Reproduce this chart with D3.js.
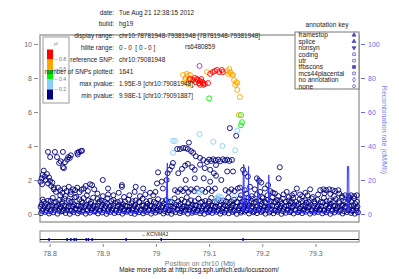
<!DOCTYPE html>
<html>
<head>
<meta charset="utf-8">
<script src="https://cdn.jsdelivr.net/npm/d3@7"></script>
<style>
  body { margin: 0; background: #fff; }
  svg { display: block; font-family: "Liberation Sans", Arial, sans-serif; }
</style>
</head>
<body>
<div id="chart"></div>
<script>
// ---- data ----
const infoLabels = ["date:", "build:", "display range:", "hilite range:", "reference SNP:",
  "number of SNPs plotted:", "max pvalue:", "min pvalue:"];
const infoValues = ["Tue Aug 21 12:38:15 2012", "hg19", "chr10:78781948-79381948 [78781948-79381948]",
  "0 - 0  [ 0 - 0 ]", "chr10:79081948", "1641", "1.95E-9 [chr10:79081948]", "9.98E-1 [chr10:79091887]"];

const annotKeys = ["framestop", "splice", "nonsyn", "coding", "utr", "tfbscons", "mcs44placental", "no annotation", "none"];
const r2Colors = ["#ff0000", "#ffa500", "#00ee00", "#87cefa", "#000080"];
const r2Ticks = ["0.8", "0.6", "0.4", "0.2"];

const xTicks = [78.8, 78.9, 79.0, 79.1, 79.2, 79.3];
const yTicks = [0, 2, 4, 6, 8, 10];
const recTicks = [0, 20, 40, 60, 80, 100];

const refSnp = [79.081948, 8.71];
const refName = "rs6480859";

// bottom band of weak SNPs (pos Mb, -log10 p), r2 < 0.2
const navyLow = [
 [78.784,0.05],[78.792,0.12],[78.799,0.03],[78.807,0.1],[78.815,0.02],[78.822,0.15],[78.83,0.06],[78.838,0.01],[78.845,0.11],[78.853,0.04],[78.861,0.13],[78.868,0.02],[78.876,0.08],[78.884,0.14],[78.891,0.03],[78.899,0.09],[78.907,0.01],[78.914,0.12],[78.922,0.05],[78.93,0.1],[78.937,0.02],[78.945,0.13],[78.953,0.06],[78.96,0.01],[78.968,0.1],[78.976,0.04],[78.983,0.12],[78.991,0.02],[78.999,0.08],[79.006,0.15],[79.014,0.03],[79.022,0.09],[79.029,0.01],[79.037,0.11],[79.045,0.05],[79.052,0.13],[79.06,0.02],[79.068,0.07],[79.075,0.12],[79.083,0.04],[79.091,0.01],[79.098,0.1],[79.106,0.06],[79.114,0.13],[79.121,0.02],[79.129,0.09],[79.137,0.04],[79.144,0.12],[79.152,0.01],[79.16,0.08],[79.167,0.14],[79.175,0.03],[79.183,0.1],[79.19,0.05],[79.198,0.12],[79.206,0.02],[79.213,0.09],[79.221,0.04],[79.229,0.13],[79.236,0.01],[79.244,0.07],[79.252,0.11],[79.259,0.03],[79.267,0.1],[79.275,0.05],[79.282,0.13],[79.29,0.02],[79.298,0.08],[79.305,0.12],[79.313,0.04],[79.321,0.1],[79.328,0.01],[79.336,0.09],[79.344,0.13],[79.351,0.03],[79.359,0.11],[79.367,0.06],[79.374,0.02],[79.38,0.1],
 [78.786,0.18],[78.794,0.2],[78.801,0.16],[78.81,0.24],[78.817,0.19],[78.825,0.17],[78.833,0.22],[78.84,0.18],[78.848,0.25],[78.856,0.16],[78.863,0.21],[78.871,0.19],[78.879,0.23],[78.886,0.17],[78.894,0.2],[78.902,0.24],[78.909,0.16],[78.917,0.21],[78.925,0.18],[78.932,0.23],[78.94,0.17],[78.948,0.2],[78.955,0.25],[78.963,0.16],[78.971,0.22],[78.978,0.18],[78.986,0.21],[78.994,0.17],[79.001,0.24],[79.009,0.19],[79.017,0.16],[79.024,0.22],[79.032,0.18],[79.04,0.25],[79.047,0.17],[79.055,0.2],[79.063,0.23],[79.07,0.16],[79.078,0.21],[79.086,0.18],[79.093,0.24],[79.101,0.17],[79.109,0.2],[79.116,0.22],[79.124,0.16],[79.132,0.19],[79.139,0.24],[79.147,0.18],[79.155,0.21],[79.162,0.17],[79.17,0.23],[79.178,0.19],[79.185,0.16],[79.193,0.22],[79.201,0.18],[79.208,0.25],[79.216,0.17],[79.224,0.2],[79.231,0.23],[79.239,0.16],[79.247,0.21],[79.254,0.18],[79.262,0.24],[79.27,0.17],[79.277,0.2],[79.285,0.22],[79.293,0.16],[79.3,0.19],[79.308,0.24],[79.316,0.18],[79.323,0.21],[79.331,0.17],[79.339,0.23],[79.346,0.19],[79.354,0.16],[79.362,0.22],[79.369,0.18],[79.377,0.2],
 [78.788,0.28],[78.796,0.35],[78.803,0.22],[78.811,0.4],[78.819,0.3],[78.826,0.25],[78.834,0.38],[78.842,0.21],[78.849,0.33],[78.857,0.27],[78.865,0.4],[78.872,0.23],[78.88,0.35],[78.888,0.3],[78.895,0.2],[78.903,0.37],[78.911,0.26],[78.918,0.32],[78.926,0.22],[78.934,0.39],[78.941,0.28],[78.949,0.24],[78.957,0.35],[78.964,0.3],[78.972,0.21],[78.98,0.38],[78.987,0.26],[78.995,0.33],[79.003,0.23],[79.01,0.4],[79.018,0.29],[79.026,0.22],[79.033,0.36],[79.041,0.27],[79.049,0.31],[79.056,0.24],[79.064,0.39],[79.072,0.28],[79.079,0.21],[79.087,0.35],[79.095,0.3],[79.102,0.25],[79.11,0.38],[79.118,0.22],[79.125,0.33],[79.133,0.27],[79.141,0.4],[79.148,0.23],[79.156,0.35],[79.164,0.29],[79.171,0.21],[79.179,0.37],[79.187,0.26],[79.194,0.32],[79.202,0.24],[79.21,0.39],[79.217,0.28],[79.225,0.22],[79.233,0.36],[79.24,0.3],[79.248,0.25],[79.256,0.38],[79.263,0.21],[79.271,0.33],[79.279,0.27],[79.286,0.4],[79.294,0.23],[79.302,0.35],[79.309,0.29],[79.317,0.22],[79.325,0.37],[79.332,0.26],[79.34,0.32],[79.348,0.24],[79.355,0.39],[79.363,0.28],[79.371,0.21],[79.377,0.34],
 [78.783,0.42],[78.79,0.47],[78.798,0.43],[78.805,0.5],[78.813,0.44],[78.821,0.41],[78.828,0.48],[78.836,0.45],[78.844,0.42],[78.851,0.49],[78.859,0.44],[78.867,0.47],[78.874,0.41],[78.882,0.46],[78.89,0.5],[78.897,0.43],[78.905,0.47],[78.913,0.42],[78.92,0.49],[78.928,0.45],[78.936,0.41],[78.943,0.48],[78.951,0.44],[78.959,0.46],[78.966,0.42],[78.974,0.5],[78.982,0.43],[78.989,0.47],[78.997,0.41],[79.005,0.46],[79.012,0.49],[79.02,0.43],[79.028,0.45],[79.035,0.42],[79.043,0.48],[79.051,0.44],[79.058,0.41],[79.066,0.47],[79.074,0.5],[79.081,0.43],[79.089,0.46],[79.097,0.42],[79.104,0.49],[79.112,0.44],[79.12,0.47],[79.127,0.41],[79.135,0.45],[79.143,0.5],[79.15,0.43],[79.158,0.46],[79.166,0.42],[79.173,0.48],[79.181,0.44],[79.189,0.41],[79.196,0.47],[79.204,0.45],[79.212,0.42],[79.219,0.49],[79.227,0.43],[79.235,0.46],[79.242,0.41],[79.25,0.48],[79.258,0.44],[79.265,0.5],[79.273,0.42],[79.281,0.46],[79.288,0.43],[79.296,0.47],[79.304,0.41],[79.311,0.45],[79.319,0.49],[79.327,0.43],[79.334,0.46],[79.342,0.42],[79.35,0.48],[79.357,0.44],[79.365,0.41],[79.372,0.47],[79.379,0.43],
 [78.785,0.55],[78.793,0.62],[78.8,0.48],[78.808,0.67],[78.816,0.52],[78.823,0.6],[78.831,0.46],[78.839,0.7],[78.846,0.57],[78.854,0.5],[78.862,0.65],[78.869,0.53],[78.877,0.6],[78.885,0.47],[78.892,0.68],[78.9,0.55],[78.908,0.61],[78.915,0.49],[78.923,0.66],[78.931,0.52],[78.938,0.58],[78.946,0.45],[78.954,0.63],[78.961,0.54],[78.969,0.69],[78.977,0.5],[78.984,0.6],[78.992,0.47],[79,0.65],[79.007,0.56],[79.015,0.62],[79.023,0.48],[79.03,0.7],[79.038,0.53],[79.046,0.59],[79.053,0.46],[79.061,0.64],[79.069,0.55],[79.076,0.5],[79.084,0.67],[79.092,0.52],[79.099,0.61],[79.107,0.47],[79.115,0.68],[79.122,0.56],[79.13,0.5],[79.138,0.63],[79.145,0.54],[79.153,0.69],[79.161,0.48],[79.168,0.6],[79.176,0.52],[79.184,0.66],[79.191,0.46],[79.199,0.58],[79.207,0.64],[79.214,0.5],[79.222,0.7],[79.23,0.55],[79.237,0.61],[79.245,0.47],[79.253,0.65],[79.26,0.53],[79.268,0.59],[79.276,0.48],[79.283,0.67],[79.291,0.54],[79.299,0.62],[79.306,0.5],[79.314,0.68],[79.322,0.56],[79.329,0.6],[79.337,0.47],[79.345,0.64],[79.352,0.53],[79.36,0.69],[79.368,0.5],[79.375,0.6],
 [78.789,0.72],[78.802,0.76],[78.812,0.71],[78.824,0.74],[78.842,0.72],[78.86,0.75],[78.878,0.71],[78.894,0.74],[78.904,0.72],[78.916,0.76],[78.928,0.71],[78.942,0.73],[78.956,0.75],[78.968,0.72],[78.982,0.74],[78.996,0.71],[79.012,0.76],[79.027,0.72],[79.042,0.74],[79.054,0.71],[79.073,0.75],[79.087,0.72],[79.1,0.74],[79.111,0.71],[79.122,0.76],[79.132,0.72],[79.142,0.74],[79.152,0.71],[79.163,0.75],[79.171,0.72],[79.18,0.74],[79.188,0.71],[79.197,0.76],[79.205,0.72],[79.216,0.74],[79.225,0.71],[79.234,0.75],[79.244,0.72],[79.255,0.74],[79.264,0.71],[79.275,0.76],[79.287,0.72],[79.298,0.74],[79.31,0.71],[79.321,0.75],[79.333,0.72],[79.344,0.74],[79.356,0.71],[79.367,0.75],[79.378,0.72],
 [78.787,0.85],[78.797,0.78],[78.806,0.95],[78.818,0.82],[78.828,0.9],[78.836,0.77],[78.847,0.98],[78.856,0.86],[78.864,0.93],[78.873,0.8],[78.882,0.96],[78.89,0.88],[78.898,0.79],[78.909,0.92],[78.92,0.83],[78.933,0.76],[78.948,0.85],[78.962,0.8],[78.975,0.9],[78.989,0.78],[79.004,0.87],[79.019,0.81],[79.035,0.92],[79.048,0.84],[79.058,0.98],[79.066,0.8],[79.08,0.9],[79.093,0.77],[79.104,0.95],[79.117,0.86],[79.127,0.79],[79.136,0.97],[79.147,0.84],[79.158,0.91],[79.166,0.78],[79.174,0.96],[79.182,0.88],[79.193,0.8],[79.201,0.93],[79.211,0.85],[79.219,0.99],[79.228,0.82],[79.239,0.9],[79.25,0.79],[79.258,0.94],[79.27,0.86],[79.281,0.8],[79.293,0.91],[79.304,0.83],[79.316,0.95],[79.327,0.8],[79.338,0.88],[79.35,0.97],[79.362,0.84],[79.373,0.92]
];

// scattered r2 < 0.2 SNPs above the band
const navyMid = [
 [78.783,1.9],[78.785,2.1],[78.787,2.3],[78.789,2.55],[78.791,2.2],[78.793,2.0],[78.795,2.35],[78.797,1.8],[78.799,2.15],[78.801,1.95],[78.786,1.75],[78.803,1.65],[78.805,1.85],[78.808,1.55],
 [78.808,1.45],[78.812,1.3],[78.816,1.55],[78.82,1.4],[78.824,1.25],[78.828,1.5],[78.832,1.35],[78.836,1.6],[78.84,1.3],[78.844,1.45],[78.848,1.4],[78.852,1.55],[78.856,1.28],[78.86,1.42],[78.864,1.5],[78.868,1.65],[78.872,1.35],[78.876,1.75],[78.88,1.7],[78.884,1.45],
 [78.82,1.1],[78.83,1.05],[78.84,1.15],[78.85,1.0],[78.87,1.1],[78.89,1.2],[78.9,1.05],[78.91,1.15],[78.92,1.1],[78.93,1.25],[78.94,1.0],[78.95,1.1],[78.96,1.3],[78.97,1.05],[78.98,1.15],
 [78.797,3.65],[78.81,3.65],[78.814,3.35],[78.801,3.35],[78.825,3.65],[78.821,3.1],[78.818,3.0],[78.829,3.05],[78.825,2.75],[78.835,3.35],[78.84,3.45],[78.838,3.3],[78.833,3.2],[78.827,2.7],[78.852,3.6],[78.855,3.65],[78.859,3.7],[78.861,3.72],[78.853,3.5],
 [78.9,2.0],[78.91,1.5],[78.936,1.6],[78.936,1.7],[78.962,1.6],[78.976,1.5],[78.989,1.25],[78.995,1.1],[78.999,1.3],[79.004,2.45],[79.002,1.8],[79.011,1.9],[79.013,1.5],[79.02,2.0],[79.022,2.4],[79.026,2.6],[79.03,2.8],[79.032,3.0],
 [79.062,4.2],[79.040,3.82],[79.045,3.82],[79.051,3.88],[79.056,3.88],[79.060,3.82],[79.066,3.7],[79.070,3.6],[79.075,3.4],[79.083,3.3],[79.089,3.18],[79.096,3.06],
 [79.1,3.2],[79.104,3.12],[79.108,3.22],[79.112,3.15],[79.117,3.2],[79.121,3.1],[79.126,3.22],[79.13,3.15],[79.134,3.2],[79.138,3.12],[79.143,3.18],[79.113,2.88],
 [79.042,2.4],[79.049,2.65],[79.055,2.85],[79.06,2.95],[79.068,2.75],[79.073,2.6],[79.083,2.9],[79.092,2.7],[79.102,2.6],[79.109,2.4],[79.09,2.1],[79.102,1.9],[79.113,2.25],[79.123,2.0],[79.134,2.5],[79.145,2.5],[79.056,2.0],[79.073,2.1],
 [79.139,5.05],[79.151,4.6],
 [79.036,1.4],[79.041,1.3],[79.046,1.45],[79.051,1.35],[79.056,1.5],[79.061,1.3],[79.066,1.45],[79.072,1.35],[79.077,1.5],[79.087,1.42],[79.093,1.3],[79.099,1.48],[79.105,1.35],[79.111,1.5],[79.131,1.4],[79.137,1.3],[79.142,1.45],[79.148,1.35],[79.154,1.5],
 [79.164,2.6],[79.167,2.4],[79.173,2.2],[79.19,2.1],[79.194,1.95],[79.198,1.85],[79.233,2.75],[79.231,2.1],[79.211,1.7],[79.158,1.55],[79.167,1.4],[79.177,1.6],[79.186,1.45],[79.196,1.3],[79.205,1.5],[79.215,1.35],[79.224,1.2],
 [79.16,1.1],[79.17,1.2],[79.18,1.05],[79.19,1.15],[79.2,1.0],[79.21,1.1],[79.22,1.25],[79.23,1.05],[79.24,1.15],[79.25,1.0],[79.26,1.2],[79.275,1.05],[79.285,1.1],[79.295,1.0],[79.305,1.15],[79.335,1.05],[79.345,1.2],
 [79.265,1.5],[79.246,1.3],[79.256,1.1],[79.29,1.45],[79.271,1.15],[79.281,1.25],[79.309,1.4],[79.315,1.45],[79.32,1.4],[79.326,1.45],[79.332,1.4],[79.337,1.35],[79.343,1.4],[79.317,1.22],[79.328,1.18],[79.35,1.05],[79.356,1.1],[79.362,1.05],[79.367,1.1],[79.373,1.05],[79.378,1.1],[79.364,0.95]
];

const skyPts = [[79.082,4.7],[79.108,4.25],[79.125,4.0],[79.149,3.75],[79.153,4.9],[79.032,4.3],[79.036,4.3],[79.032,3.6],
 [79.08,1.3],[79.083,1.25],[79.115,0.95],[79.118,1.05],[79.113,0.9],[79.122,1.0],[79.147,1.0],[79.026,0.8],[79.12,0.85]];

const greenPts = [[79.1,6.8],[79.16,5.82],[79.162,5.4],[79.16,5.22]];

const orangePts = [[79.051,8.18],[79.058,8.24],[79.06,8.12],[79.064,8.18],[79.055,7.88],[79.058,7.76],[79.06,7.65],[79.068,7.6],[79.062,7.88],[79.056,8.0],[79.066,7.94],
 [79.096,8.35],[79.134,8.41],[79.138,8.53],[79.141,8.29],[79.143,8.18],[79.145,8.18],[79.139,8.35],[79.136,8.24],[79.147,7.88],[79.151,7.76],[79.153,7.7],[79.149,7.6],[79.153,7.3],[79.158,6.88],[79.156,5.82]];

const redPts = [[79.073,8.0],[79.077,7.94],[79.079,7.88],[79.083,7.82],[79.087,7.76],[79.089,7.7],[79.092,7.65],[79.098,7.7],[79.089,7.6],[79.083,7.6],[79.07,7.88],[79.064,7.94],[79.075,7.76],[79.081,7.7],[79.085,7.94],
 [79.107,8.35],[79.111,8.41],[79.115,8.47],[79.124,8.47],[79.126,8.35],[79.102,8.24],[79.119,8.35]];

// recombination rate (pos Mb, cM/Mb)
const recomb = [[78.782,1.2],[78.80,0.8],[78.83,1.5],[78.86,0.6],[78.90,1.0],[78.95,0.7],[79.00,1.3],[79.019,2.0],[79.0215,30],[79.0222,3],[79.05,1.0],[79.08,0.6],[79.12,1.2],
 [79.163,1.5],[79.1648,29],[79.1655,29],[79.1662,2],[79.1735,2],[79.1742,28],[79.175,2],[79.191,1.5],[79.1917,22],[79.1925,2],[79.2115,1.5],[79.2122,23],[79.213,2],
 [79.25,1],[79.30,0.8],[79.3595,1.5],[79.3602,28],[79.3625,28],[79.3632,2],[79.382,1]];

// KCNMA1 exons (Mb)
const geneName = "KCNMA1";
const exons = [78.799, 78.833, 78.840, 78.846, 78.850, 78.869, 78.873, 78.880, 78.944, 79.010, 79.164];

// ---- drawing ----
const W = 399, H = 279;
const svg = d3.select("#chart").append("svg").attr("width", W).attr("height", H);

const x = d3.scaleLinear().domain([78.781948, 79.381948]).range([40, 359]);
const y = d3.scaleLinear().domain([0, 10]).range([214, 44]);
const yRec = d3.scaleLinear().domain([0, 100]).range([214, 44]);
const plotTop = y(10.53), plotBottom = y(-0.47);

// info text block
const info = svg.append("g").attr("font-size", 6.4).attr("fill", "#222");

// plot frame
svg.append("rect").attr("x", 40).attr("y", plotTop).attr("width", 319).attr("height", plotBottom - plotTop)
  .attr("fill", "none").attr("stroke", "#9a9a9a").attr("stroke-width", 1.4);

// left axis
const gl = svg.append("g").attr("transform", "translate(38,0)")
  .call(d3.axisLeft(y).tickValues(yTicks).tickSize(4).tickPadding(2).tickFormat(d3.format("d")));
gl.select(".domain").remove();
gl.selectAll("line").attr("stroke", "#888");
gl.selectAll("text").attr("fill", "#666").attr("font-size", 7).attr("font-family", null);

// right axis
const gr = svg.append("g").attr("transform", "translate(361,0)")
  .call(d3.axisRight(yRec).tickValues(recTicks).tickSize(4).tickPadding(3));
gr.select(".domain").remove();
gr.selectAll("line").attr("stroke", "#6a6ae8");
gr.selectAll("text").attr("fill", "#6a6ae8").attr("font-size", 7).attr("font-family", null);
svg.append("text").attr("transform", "translate(382,130) rotate(90)")
  .attr("text-anchor", "middle").attr("font-size", 7).attr("fill", "#7a7aee")
  .text("Recombination rate (cM/Mb)");

// points
const pts = svg.append("g").attr("fill", "none").attr("stroke-width", 0.9);
function drawPts(data, color) {
  pts.append("g").attr("stroke", color).selectAll("circle").data(data).join("circle")
    .attr("cx", d => x(d[0])).attr("cy", d => y(d[1])).attr("r", 2.5);
}
drawPts(navyLow, r2Colors[4]);
drawPts(navyMid, r2Colors[4]);
drawPts(skyPts, r2Colors[3]);
drawPts(greenPts, r2Colors[2]);
drawPts(orangePts, r2Colors[1]);
drawPts(redPts, r2Colors[0]);
drawPts([refSnp], "#9932cc");

// recombination line
svg.append("path").datum(recomb)
  .attr("fill", "none").attr("stroke", "#3333ff").attr("stroke-width", 1)
  .attr("d", d3.line().x(d => x(d[0])).y(d => yRec(d[1])));

svg.append("text").attr("x", 185).attr("y", y(8.71) - 16.5).attr("font-size", 6.4).attr("fill", "#222")
  .text(refName);

// r2 legend
const lg = svg.append("g");
lg.append("rect").attr("x", 43).attr("y", 37).attr("width", 26).attr("height", 66)
  .attr("fill", "#fff").attr("stroke", "#9a9a9a").attr("stroke-width", 1);
lg.selectAll("rect.c").data(r2Colors).join("rect").attr("class", "c")
  .attr("x", 47).attr("y", (d, i) => 49.5 + i * 10).attr("width", 6).attr("height", 10)
  .attr("fill", d => d);
lg.append("text").attr("x", 54).attr("y", 46).attr("font-size", 5.5).attr("font-style", "italic")
  .attr("fill", "#666").text("r²");
lg.selectAll("text.t").data(r2Ticks).join("text").attr("class", "t")
  .attr("x", 54.5).attr("y", (d, i) => 59.5 + i * 10).attr("dy", "0.35em")
  .attr("font-size", 5.3).attr("fill", "#777").text(d => "– " + d);

// info text (drawn over the legend like the original)
info.raise();
info.selectAll("text.l").data(infoLabels).join("text").attr("class", "l")
  .attr("x", 114).attr("y", (d, i) => 12.3 + i * 11.9).attr("dy", "0.35em")
  .attr("text-anchor", "end").text(d => d);
info.selectAll("text.v").data(infoValues).join("text").attr("class", "v")
  .attr("x", 119).attr("y", (d, i) => 12.3 + i * 11.9).attr("dy", "0.35em")
  .style("white-space", "pre").text(d => d);

// annotation key
const ak = svg.append("g");
ak.append("text").attr("x", 327).attr("y", 24.5).attr("dy", "0.35em").attr("text-anchor", "middle")
  .attr("font-size", 6.6).attr("fill", "#222").text("annotation key");
ak.append("rect").attr("x", 295).attr("y", 32).attr("width", 64).attr("height", 57)
  .attr("fill", "#fff").attr("stroke", "#777").attr("stroke-width", 1);
ak.selectAll("text.k").data(annotKeys).join("text").attr("class", "k")
  .attr("x", 298.5).attr("y", (d, i) => 35 + i * 6.4).attr("dy", "0.35em")
  .attr("font-size", 6.6).attr("fill", "#222").text(d => d);
const symTypes = [d3.symbolTriangle, d3.symbolTriangle, d3.symbolTriangle, d3.symbolSquare, d3.symbolSquare,
  d3.symbolSquare, d3.symbolSquare, d3.symbolDiamond, d3.symbolCircle];
ak.selectAll("path.s").data(annotKeys).join("path").attr("class", "s")
  .attr("transform", (d, i) => `translate(354,${35 + i * 6.4})` + (i === 2 ? " rotate(180)" : ""))
  .attr("d", (d, i) => d3.symbol(symTypes[i], i === 5 ? 9 : 7)())
  .attr("fill", (d, i) => (i === 5 || i < 3) ? "#4a4ab8" : "none")
  .attr("stroke", "#4a4ab8").attr("stroke-width", 0.7);

// gene track
svg.append("rect").attr("x", 40).attr("y", 231).attr("width", 319).attr("height", 11)
  .attr("fill", "none").attr("stroke", "#9a9a9a").attr("stroke-width", 1.2);
svg.append("line").attr("x1", 40).attr("x2", 359).attr("y1", 239.5).attr("y2", 239.5)
  .attr("stroke", "#000080").attr("stroke-width", 1.2);
svg.selectAll("rect.exon").data(exons).join("rect").attr("class", "exon")
  .attr("x", d => x(d) - 0.7).attr("y", 238).attr("width", 1.4).attr("height", 3).attr("fill", "#000080");
svg.append("text").attr("x", x(78.998)).attr("y", 234.5).attr("dy", "0.35em").attr("text-anchor", "middle")
  .attr("font-size", 5.3).attr("font-style", "italic").attr("fill", "#222").text("\u2190" + geneName);

// x axis
const gx = svg.append("g").attr("transform", "translate(0,244)")
  .call(d3.axisBottom(x).tickValues(xTicks).tickSize(3).tickPadding(4).tickFormat(d3.format("")));
gx.select(".domain").remove();
gx.selectAll("line").attr("stroke", "#888");
gx.selectAll("text").attr("fill", "#666").attr("font-size", 7).attr("font-family", null);

svg.append("text").attr("x", 200).attr("y", 264).attr("dy", "0.35em").attr("text-anchor", "middle")
  .attr("font-size", 7).attr("fill", "#777").text("Position on chr10 (Mb)");
svg.append("text").attr("x", 199).attr("y", 269.5).attr("dy", "0.35em").attr("text-anchor", "middle")
  .attr("font-size", 6.4).attr("fill", "#111").text("Make more plots at http://csg.sph.umich.edu/locuszoom/");
</script>
</body>
</html>
